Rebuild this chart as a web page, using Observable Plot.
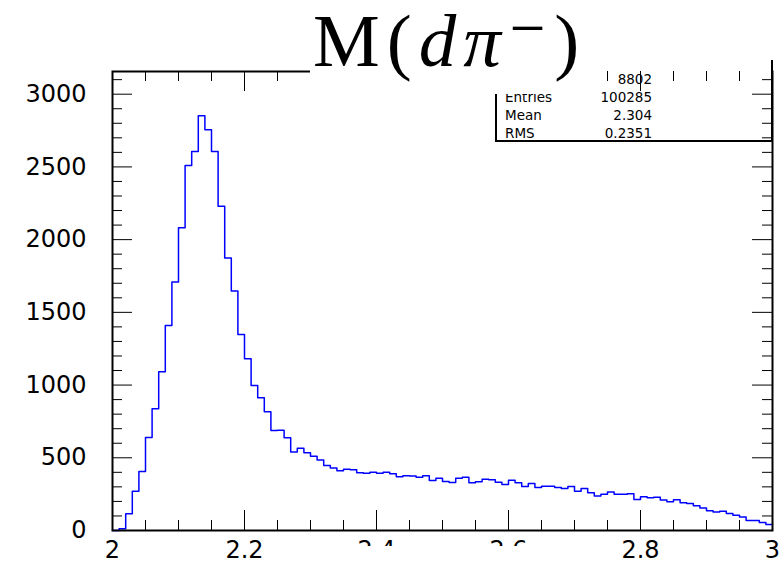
<!DOCTYPE html>
<html>
<head>
<meta charset="utf-8">
<script src="https://cdn.jsdelivr.net/npm/d3@7"></script>
<script src="https://cdn.jsdelivr.net/npm/@observablehq/plot@0.6"></script>
<style>
  html, body { margin: 0; padding: 0; background: white; }
  #wrap { position: relative; width: 783px; height: 565px; overflow: hidden; background: white; }
  #wrap > div { position: absolute; }
  .st { font-family: "DejaVu Sans", sans-serif; font-size: 13.5px; color: black; position: absolute; line-height: 16px; white-space: nowrap; }
</style>
</head>
<body>
<div id="wrap">
  <div id="main" style="left:0;top:0"></div>
  <div id="stats" style="left:495px;top:60px;width:278px;height:82px;box-sizing:border-box;background:white;border-left:2px solid black;border-right:2px solid black;border-bottom:2px solid black;"></div>
  <div id="ticks" style="left:0;top:0"></div>
  <div id="titlebox" style="left:310px;top:0;width:290px;height:94px;background:white;"></div>
  <div id="title" style="left:313px;top:3px;font-family:'Liberation Serif','DejaVu Serif',serif;font-size:75px;line-height:75px;letter-spacing:7px;white-space:nowrap;color:black;">M(<i>dπ</i>⁻)</div>
  <div id="xcover" style="left:290px;top:546px;width:310px;height:19px;background:white;"></div>
</div>
<script>
// ---- data ----
const binStart = 2.0;
const binWidth = 0.01;
const counts = [0,12,115,270,406,640,837,1091,1410,1708,
  2082,2510,2606,2852,2756,2606,2230,1873,1646,1348,
  1181,997,912,816,688,690,637,539,566,534,
  511,484,447,429,410,422,417,397,394,401,
  394,401,390,369,376,374,367,376,344,360,
  337,330,360,367,328,335,353,349,332,316,
  346,328,303,323,296,305,305,296,289,303,
  270,289,259,238,250,264,250,250,252,213,
  232,225,229,209,197,211,190,186,170,154,
  135,128,133,117,105,92,69,69,55,41];
const xTicks = [2, 2.2, 2.4, 2.6, 2.8, 3];
const yTicks = [0, 500, 1000, 1500, 2000, 2500, 3000];
const statLabels = ["", "Entries", "Mean", "RMS"];
const statValues = ["8802", "100285", "2.304", "0.2351"];

// ---- layout ----
const W = 783, H = 565;
const mL = 112, mR = 11, mT = 71, mB = 35;
const xDomain = [2, 3];
const yMax = 3156;
const innerW = W - mL - mR, innerH = H - mT - mB;
const xu = px => px * (xDomain[1] - xDomain[0]) / innerW;
const yu = px => px * yMax / innerH;

// step outline built from the bins
const steps = counts.flatMap((c, i) => [
  {x: binStart + i * binWidth, y: c},
  {x: binStart + (i + 1) * binWidth, y: c}
]);

const main = Plot.plot({
  width: W, height: H,
  marginLeft: mL, marginRight: mR, marginTop: mT, marginBottom: mB,
  style: {fontFamily: "DejaVu Sans, sans-serif", fontSize: "24px", color: "black", background: "white"},
  x: {domain: xDomain, ticks: xTicks, tickFormat: d => String(d), tickSize: 0, tickPadding: 10, label: null},
  y: {domain: [0, yMax], ticks: yTicks, tickFormat: d => String(d), tickSize: 0, tickPadding: 26, label: null},
  marks: [
    Plot.line(steps, {x: "x", y: "y", stroke: "#0000ff", strokeWidth: 1.5}),
    Plot.frame({stroke: "black", strokeWidth: 2})
  ]
});
document.getElementById("main").appendChild(main);

// axis ticks (drawn on top, ROOT style inside the frame)
const yMinor = d3.range(0, yMax, 100).filter(v => v % 500 !== 0);
const xMinor = d3.range(0, 21).map(i => 2 + i * 0.05).filter(v => Math.abs(v * 5 - Math.round(v * 5)) > 1e-6);
const big = 20, small = 10;
const tk = {stroke: "black", strokeWidth: 1};
const ticks = Plot.plot({
  width: W, height: H,
  marginLeft: mL, marginRight: mR, marginTop: mT, marginBottom: mB,
  style: {background: "transparent"},
  x: {domain: xDomain, axis: null},
  y: {domain: [0, yMax], axis: null},
  marks: [
    Plot.ruleY(yTicks, {y: d => d, x1: xDomain[0], x2: xDomain[0] + xu(big), ...tk}),
    Plot.ruleY(yMinor, {y: d => d, x1: xDomain[0], x2: xDomain[0] + xu(small), ...tk}),
    Plot.ruleY(yTicks, {y: d => d, x1: xDomain[1] - xu(big), x2: xDomain[1], ...tk}),
    Plot.ruleY(yMinor, {y: d => d, x1: xDomain[1] - xu(small), x2: xDomain[1], ...tk}),
    Plot.ruleX(xTicks, {x: d => d, y1: 0, y2: yu(big), ...tk}),
    Plot.ruleX(xMinor, {x: d => d, y1: 0, y2: yu(small), ...tk}),
    Plot.ruleX(xTicks, {x: d => d, y1: yMax - yu(big), y2: yMax, ...tk}),
    Plot.ruleX(xMinor, {x: d => d, y1: yMax - yu(small), y2: yMax, ...tk})
  ]
});
document.getElementById("ticks").appendChild(ticks);

// stats box text
const stats = document.getElementById("stats");
const rowY = [11, 29, 47, 65];
statLabels.forEach((t, i) => {
  const d = document.createElement("div");
  d.className = "st"; d.textContent = t;
  d.style.left = "8px"; d.style.top = rowY[i] + "px";
  stats.appendChild(d);
});
statValues.forEach((t, i) => {
  const d = document.createElement("div");
  d.className = "st"; d.textContent = t;
  d.style.right = (278 - 2 - 157) + "px"; d.style.top = rowY[i] + "px";
  stats.appendChild(d);
});
</script>
</body>
</html>
